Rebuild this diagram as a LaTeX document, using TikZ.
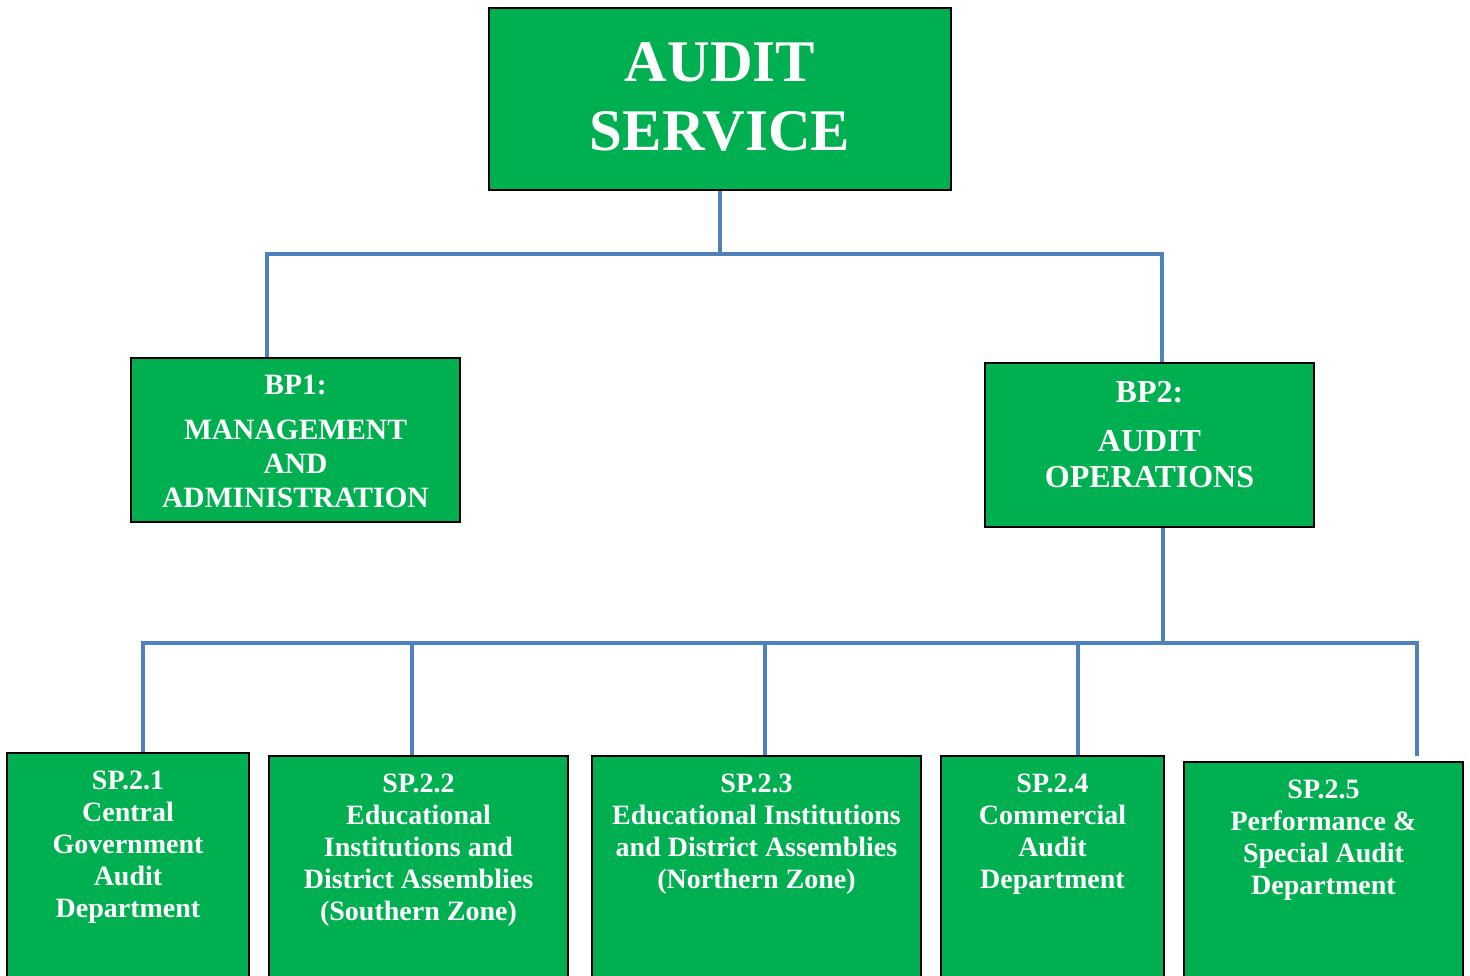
\documentclass[tikz,border=0pt]{standalone}
\usepackage{fontspec}
\setmainfont{Liberation Serif}
\usepackage{tikz}
\definecolor{gn}{RGB}{0, 176, 80}
\definecolor{ln}{RGB}{79, 129, 189}
\usetikzlibrary{positioning}
\tikzset{
  box/.style={rectangle, fill=gn, draw=black, line width=1.2pt, inner sep=0pt},
  lbl/.style={text=white, align=center, inner sep=0pt, font=\bfseries\fontsize{28}{32}\selectfont},
  conn/.style={line width=3.5pt, color=ln}
}
\begin{document}
\begin{tikzpicture}
\useasboundingbox (0pt, 0pt) rectangle (1470pt, -976pt);
% boxes
\node (as) [box, minimum width=462pt, minimum height=182pt] at (720.0pt, -99.0pt) {};
\node (bp1) [box, minimum width=329pt, minimum height=164pt] at (295.5pt, -440.0pt) {};
\node (bp2) [box, minimum width=329pt, minimum height=164pt] at (1149.5pt, -445.0pt) {};
\node (sp1) [box, minimum width=242pt, minimum height=250pt] at (128.0pt, -878.0pt) {};
\node (sp2) [box, minimum width=299pt, minimum height=250pt] at (418.5pt, -881.0pt) {};
\node (sp3) [box, minimum width=329pt, minimum height=250pt] at (756.5pt, -881.0pt) {};
\node (sp4) [box, minimum width=223pt, minimum height=250pt] at (1052.5pt, -881.0pt) {};
\node (sp5) [box, minimum width=279pt, minimum height=250pt] at (1323.5pt, -887.0pt) {};
% texts
\node (tas) [lbl, font=\bfseries\fontsize{59}{69}\selectfont, below=35pt of as.north] {AUDIT\\SERVICE};
\node (tbp1) [lbl, font=\bfseries\fontsize{29.5}{34}\selectfont, below=17pt of bp1.north] {BP1:\\[11pt]MANAGEMENT\\AND\\ADMINISTRATION};
\node (tbp2) [lbl, font=\bfseries\fontsize{32}{36}\selectfont, below=19pt of bp2.north] {BP2:\\[13pt]AUDIT\\OPERATIONS};
\node (tsp1) [lbl, below=18pt of sp1.north] {SP.2.1\\Central\\Government\\Audit\\Department};
\node (tsp2) [lbl, below=18pt of sp2.north] {SP.2.2\\Educational\\Institutions and\\District Assemblies\\(Southern Zone)};
\node (tsp3) [lbl, below=18pt of sp3.north] {SP.2.3\\Educational Institutions\\and District Assemblies\\(Northern Zone)};
\node (tsp4) [lbl, below=18pt of sp4.north] {SP.2.4\\Commercial\\Audit\\Department};
\node (tsp5) [lbl, below=18pt of sp5.north] {SP.2.5\\Performance \&\\Special Audit\\Department};
% connectors
\coordinate (bus1) at (720.0pt, -254.0pt);
\coordinate (bus2) at (1163.0pt, -643.0pt);
\draw [conn] (as.south) -- (bus1);
\draw [conn] ([xshift=-28.5pt]bp1.north) |- (bus1) -| ([xshift=12.5pt]bp2.north);
\draw [conn] ([xshift=13.5pt]bp2.south) -- (bus2);
\draw [conn] ([xshift=15pt]sp1.north) |- (bus2) -| ([xshift=93.5pt, yshift=5pt]sp5.north);
\draw [conn] ([xshift=-6.5pt]sp2.north) -- ([xshift=-6.5pt]sp2.north |- bus2);
\draw [conn] ([xshift=8.5pt]sp3.north) -- ([xshift=8.5pt]sp3.north |- bus2);
\draw [conn] ([xshift=25.5pt]sp4.north) -- ([xshift=25.5pt]sp4.north |- bus2);
\end{tikzpicture}
\end{document}
